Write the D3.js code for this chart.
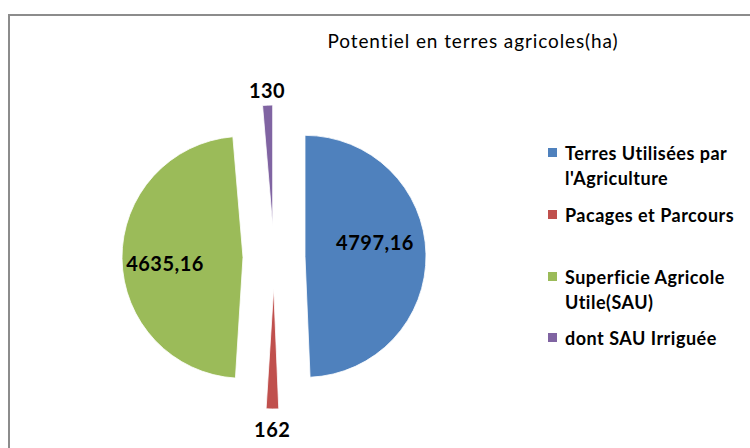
<!DOCTYPE html>
<html>
<head>
<meta charset="utf-8">
<script src="https://cdn.jsdelivr.net/npm/d3@7"></script>
<style>
  html, body { margin: 0; padding: 0; background: #fff; }
  svg { display: block; font-family: Lato, "Open Sans", sans-serif; }
</style>
</head>
<body>
<svg id="chart" width="750" height="448"></svg>
<script>
// Data
const categories = [
    'Terres Utilisées par l\'Agriculture',
    'Pacages et Parcours',
    'Superficie Agricole Utile(SAU)',
    'dont SAU Irriguée'
];
const values = [4797.16, 162, 4635.16, 130];
const valueLabels = ['4797,16', '162', '4635,16', '130'];
const colors = ['#4F81BD', '#C0504D', '#9BBB59', '#8064A2'];
// legend lines (wrapped as in the picture)
const legendLines = [
    ['Terres Utilisées par', 'l\'Agriculture'],
    ['Pacages et Parcours'],
    ['Superficie Agricole', 'Utile(SAU)'],
    ['dont SAU Irriguée']
];

const svg = d3.select('#chart');

// Chart frame (cut by the window on right and bottom)
svg.append('path')
    .attr('d', 'M9,460 V15 H760')
    .attr('fill', 'none')
    .attr('stroke', '#8c8c8c')
    .attr('stroke-width', 2);

// Title
svg.append('text')
    .attr('x', 473)
    .attr('y', 48)
    .attr('text-anchor', 'middle')
    .attr('font-size', 19)
    .attr('letter-spacing', 0.9)
    .attr('fill', '#000')
    .text('Potentiel en terres agricoles(ha)');

// Pie
const cx = 274, cy = 257;
const radius = 121;
const explode = 31;

const pie = d3.pie().sort(null).value(d => d);
const arcs = pie(values);
const arc = d3.arc().innerRadius(0).outerRadius(radius);

const g = svg.append('g').attr('transform', `translate(${cx},${cy})`);

function offset(d, dist) {
    const a = (d.startAngle + d.endAngle) / 2;
    return [Math.sin(a) * dist, -Math.cos(a) * dist];
}

const slice = g.selectAll('g.slice')
    .data(arcs)
    .join('g')
    .attr('class', 'slice')
    .attr('transform', d => {
        const [x, y] = offset(d, explode);
        return `translate(${x},${y})`;
    });

slice.append('path')
    .attr('d', arc)
    .attr('fill', (d, i) => colors[i])
    .attr('stroke', '#fff')
    .attr('stroke-width', 0.8);

// Data labels: inside for the big slices, outside for the thin ones
const labelShift = [[0, -12], [0, 0], [0, 6], [0, 0]];
const labelDist = [101, 173, 109, 166];
g.selectAll('text.val')
    .data(arcs)
    .join('text')
    .attr('class', 'val')
    .attr('x', (d, i) => offset(d, labelDist[i])[0] + labelShift[i][0])
    .attr('y', (d, i) => offset(d, labelDist[i])[1] + labelShift[i][1])
    .attr('dy', '0.35em')
    .attr('text-anchor', 'middle')
    .attr('font-size', 20)
    .attr('letter-spacing', 0.5)
    .attr('font-weight', 'bold')
    .attr('fill', '#000')
    .text((d, i) => valueLabels[i]);

// Legend
const legendY = [148, 210, 272, 333];
const legend = svg.append('g');
const item = legend.selectAll('g')
    .data(categories)
    .join('g')
    .attr('transform', (d, i) => `translate(548,${legendY[i]})`);

item.append('rect')
    .attr('width', 9)
    .attr('height', 9)
    .attr('fill', (d, i) => colors[i]);

item.append('text')
    .attr('x', 17)
    .attr('y', 12)
    .attr('font-size', 18)
    .attr('letter-spacing', 0.5)
    .attr('font-weight', 'bold')
    .attr('fill', '#000')
    .selectAll('tspan')
    .data((d, i) => legendLines[i])
    .join('tspan')
    .attr('x', 17)
    .attr('dy', (d, j) => j === 0 ? 0 : 25)
    .text(d => d);
</script>
</body>
</html>
